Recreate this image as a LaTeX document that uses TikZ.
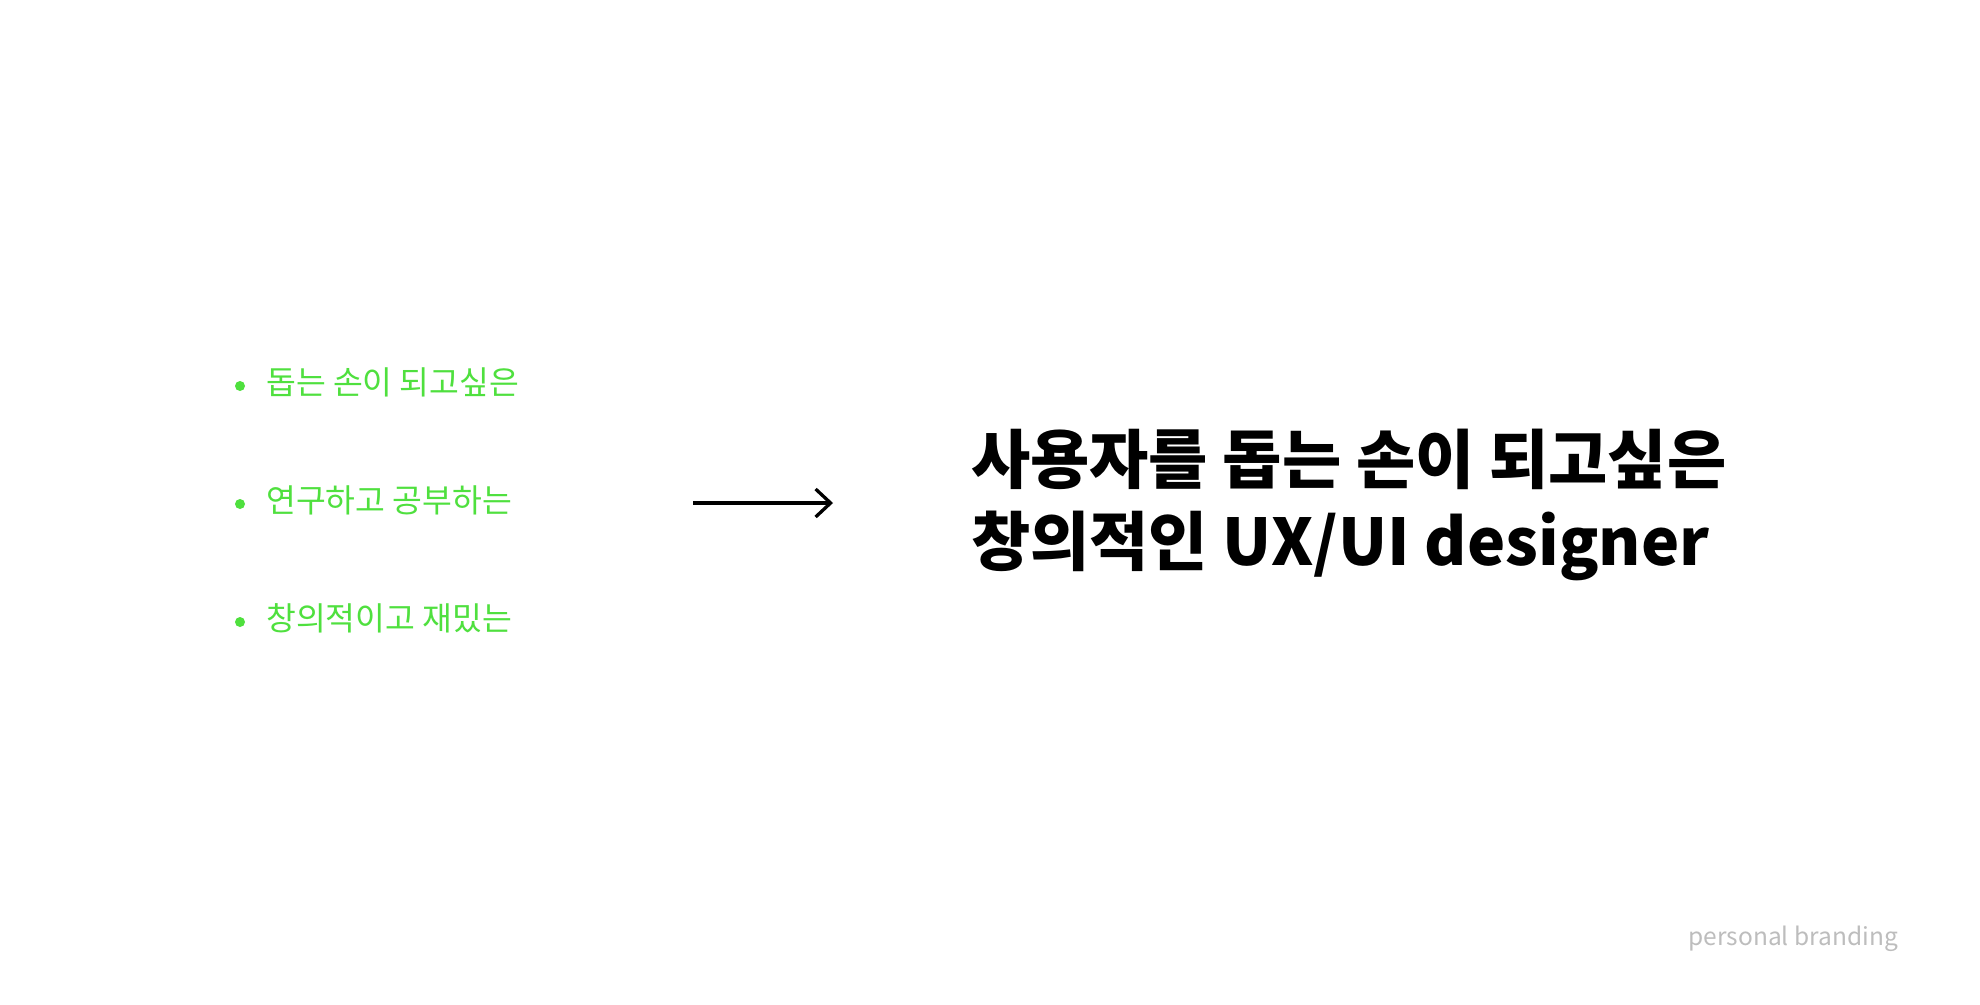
\documentclass[tikz,border=0pt]{standalone}
\usepackage{fontspec}
\setmainfont{Noto Sans CJK KR}
\usetikzlibrary{arrows.meta,positioning}
\definecolor{brandgreen}{HTML}{4FE03E}
\definecolor{brandgrey}{HTML}{BDBDBD}

\begin{document}
\begin{tikzpicture}[x=1pt,y=-1pt,
    bullet/.style={circle,fill=brandgreen,inner sep=0pt,minimum size=10pt},
    item/.style={anchor=base west,inner sep=0pt,text=brandgreen,font=\fontsize{32.4}{38}\selectfont},
    headline/.style={anchor=base west,inner sep=0pt,align=left,font=\bfseries\fontsize{64.4}{81.5}\selectfont},
    footer/.style={anchor=base east,inner sep=0pt,text=brandgrey,font=\fontsize{24.5}{28}\selectfont}]
        \useasboundingbox[fill=white] (0,0) rectangle (1980,1004);
        %\draw[very thin,color=gray] (0,0) grid[step=100] (1980,1004);
        \node[bullet] (b1) at (240,386) {};
        \node[bullet] (b2) at (240,504) {};
        \node[bullet] (b3) at (240,622) {};
        \node[item] (t1) at (266,394) {돕는 손이 되고싶은};
        \node[item] (t2) at (266,512) {연구하고 공부하는};
        \node[item] (t3) at (266,630) {창의적이고 재밌는};
        \coordinate (arrowstart) at (693,503);
        \coordinate (arrowend) at (833,503);
        \draw[line width=3.3pt,-{Straight Barb[length=15pt,width=28pt]}] (arrowstart) -- (arrowend);
        % base of the node is the second line
        \node[headline] (head) at (971,565) {사용자를 돕는 손이 되고싶은\\창의적인 UX/UI designer};
        \node[footer] (brand) at (1898,945) {personal branding};
    \end{tikzpicture}
\end{document}
